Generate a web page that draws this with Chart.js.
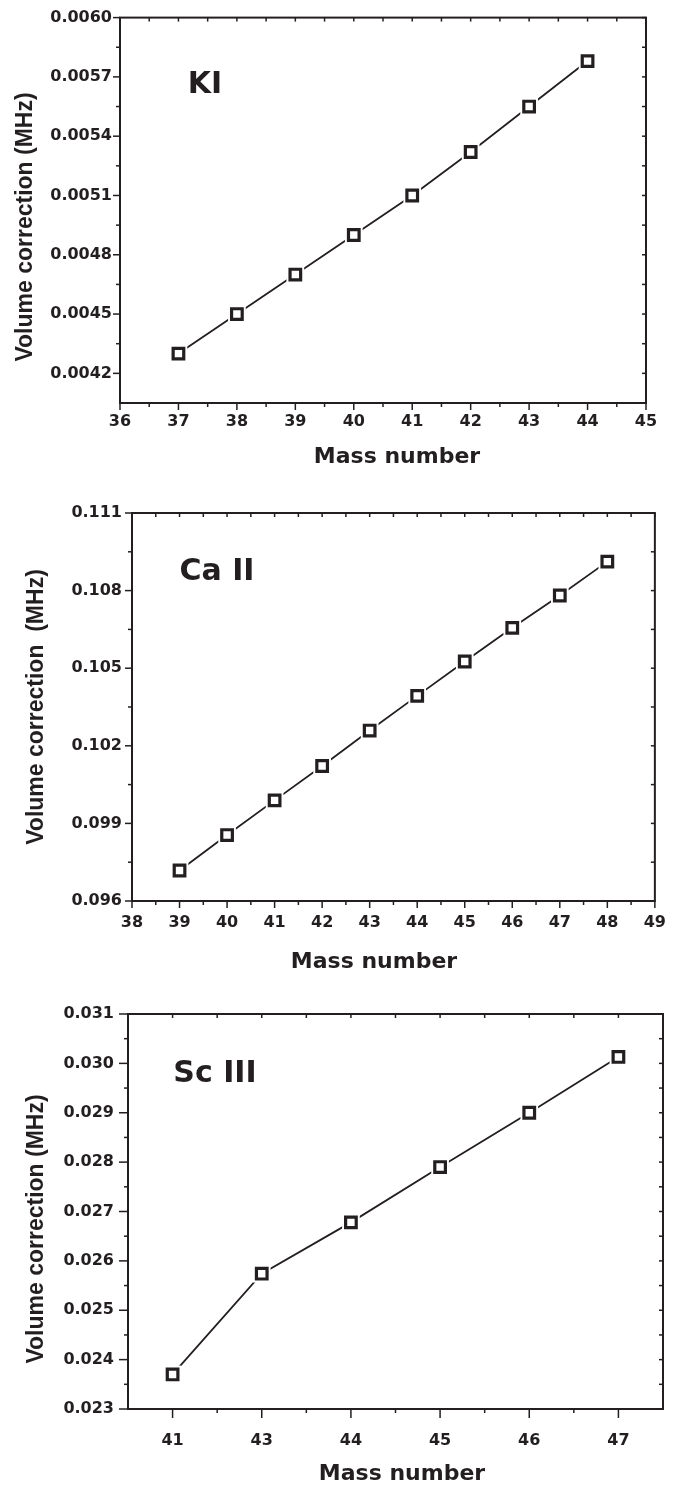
<!DOCTYPE html>
<html>
<head>
<meta charset="utf-8">
<script src="https://cdn.jsdelivr.net/npm/chart.js@4.4.1/dist/chart.umd.min.js"></script>
<style>
  body { margin: 0; background: #fff; }
  #wrap { position: relative; width: 678px; height: 1485px; }
  canvas { position: absolute; left: 0; }
</style>
</head>
<body>
<div id="wrap">
  <canvas id="chartKI" width="678" height="480" style="top:0px"></canvas>
  <canvas id="chartCa" width="678" height="510" style="top:480px"></canvas>
  <canvas id="chartSc" width="678" height="495" style="top:990px"></canvas>
</div>
<script>
// K I
const massKI = [37, 38, 39, 40, 41, 42, 43, 44];
const corrKI = [0.00430, 0.00450, 0.00470, 0.00490, 0.00510, 0.00532, 0.00555, 0.00578];
const xLabelsKI = ['36', '37', '38', '39', '40', '41', '42', '43', '44', '45'];
const yLabelsKI = ['0.0042', '0.0045', '0.0048', '0.0051', '0.0054', '0.0057', '0.0060'];

// Ca II
const massCa = [39, 40, 41, 42, 43, 44, 45, 46, 47, 48];
const corrCa = [0.09718, 0.09855, 0.09989, 0.10122, 0.10259, 0.10393, 0.10526, 0.10656, 0.10781, 0.10912];
const xLabelsCa = ['38', '39', '40', '41', '42', '43', '44', '45', '46', '47', '48', '49'];
const yLabelsCa = ['0.096', '0.099', '0.102', '0.105', '0.108', '0.111'];

// Sc III (no 42, axis is per isotope)
const massSc = ['41', '43', '44', '45', '46', '47'];
const corrSc = [0.02370, 0.02574, 0.02678, 0.02790, 0.02900, 0.03013];
const yLabelsSc = ['0.023', '0.024', '0.025', '0.026', '0.027', '0.028', '0.029', '0.030', '0.031'];

const INK = '#231f20';
Chart.defaults.font.family = 'DejaVu Sans';
Chart.defaults.font.size = 16;
Chart.defaults.font.weight = 'bold';
Chart.defaults.color = INK;

// minor ticks half way between the major ones
function halves(vals) {
  const step = vals[1] - vals[0];
  const out = [];
  for (let i = 0; i <= vals.length; i++) out.push(vals[0] + (i - 0.5) * step);
  return out;
}

// box, tick marks and the texts Origin style
const framePlugin = {
  id: 'frame',
  afterDraw(chart, args, o) {
    const { ctx, chartArea: a } = chart;
    const x = chart.scales.x, y = chart.scales.y;
    ctx.save();
    ctx.strokeStyle = INK;
    ctx.lineWidth = 2;
    ctx.strokeRect(a.left, a.top, a.right - a.left, a.bottom - a.top);
    ctx.lineWidth = 1.5;
    const mark = (px, py, dx, dy) => {
      ctx.beginPath(); ctx.moveTo(px, py); ctx.lineTo(px + dx, py + dy); ctx.stroke();
    };
    const inside = (s, v) => v > s.min + 1e-9 && v < s.max - 1e-9;
    x.ticks.forEach(t => {
      const p = x.getPixelForValue(t.value);
      mark(p, a.bottom, 0, o.major);
      mark(p, a.top, 0, o.inner);
    });
    o.xMinor.filter(v => inside(x, v)).forEach(v => {
      const p = x.getPixelForValue(v);
      mark(p, a.bottom, 0, o.minor);
      mark(p, a.top, 0, o.inner);
    });
    y.ticks.forEach(t => {
      const p = y.getPixelForValue(t.value);
      mark(a.left, p, -o.major, 0);
      mark(a.right, p, -o.inner, 0);
    });
    o.yMinor.filter(v => inside(y, v)).forEach(v => {
      const p = y.getPixelForValue(v);
      mark(a.left, p, -o.minor, 0);
      mark(a.right, p, -o.inner, 0);
    });

    ctx.fillStyle = INK;
    ctx.textBaseline = 'alphabetic';
    ctx.textAlign = 'center';
    ctx.font = 'bold 30px "DejaVu Sans"';
    ctx.fillText(o.label, o.labelPos[0], o.labelPos[1]);
    ctx.font = 'bold 22px "DejaVu Sans"';
    ctx.fillText(o.xTitle, o.xTitlePos[0], o.xTitlePos[1]);
    ctx.translate(o.yTitlePos[0], o.yTitlePos[1]);
    ctx.rotate(-Math.PI / 2);
    ctx.font = 'bold 23px "Liberation Sans"';
    ctx.fillText(o.yTitle, 0, 0);
    ctx.restore();
  }
};

function makeChart(id, c) {
  return new Chart(document.getElementById(id), {
    type: 'line',
    data: {
      labels: c.labels,
      datasets: [
        {
          // open squares (dataset 0 is painted last)
          data: c.data,
          showLine: false,
          pointStyle: 'rect',
          pointRadius: 7.5,
          pointBorderWidth: 3.2,
          pointBackgroundColor: '#ffffff',
          pointBorderColor: INK,
          clip: false
        },
        {
          // connecting line, with a white halo so it stops short of the squares
          data: c.data,
          borderColor: INK,
          borderWidth: 1.8,
          tension: 0,
          pointStyle: 'rect',
          pointRadius: 12.5,
          pointBorderWidth: 0,
          pointBackgroundColor: '#ffffff',
          clip: false
        }
      ]
    },
    options: {
      responsive: false,
      animation: false,
      devicePixelRatio: 1,
      layout: { padding: { top: c.padTop, right: c.padRight, left: 0, bottom: 0 } },
      plugins: {
        legend: { display: false },
        tooltip: { enabled: false },
        frame: c.frame
      },
      scales: {
        x: c.x,
        y: c.y
      }
    },
    plugins: [framePlugin]
  });
}

function linearX(min, max, labels, h, pad) {
  return {
    type: 'linear', min: min, max: max,
    afterBuildTicks: s => { s.ticks = labels.map(l => ({ value: +l })); },
    afterFit: s => { s.height = h; },
    grid: { display: false, drawTicks: false },
    border: { display: false },
    ticks: { padding: pad, autoSkip: false, maxRotation: 0, callback: v => v.toFixed(0) }
  };
}

function linearY(min, max, labels, digits, w, pad) {
  return {
    type: 'linear', min: min, max: max,
    afterBuildTicks: s => { s.ticks = labels.map(l => ({ value: +l })); },
    afterFit: s => { s.width = w; },
    grid: { display: false, drawTicks: false },
    border: { display: false },
    ticks: { padding: pad, autoSkip: false, callback: v => v.toFixed(digits) }
  };
}

makeChart('chartKI', {
  data: massKI.map((m, i) => ({ x: m, y: corrKI[i] })),
  padTop: 15, padRight: 32,
  x: linearX(36, 45, xLabelsKI, 77, 9),
  y: linearY(0.00405, 0.0060, yLabelsKI, 4, 120, 8),
  frame: {
    xMinor: halves(xLabelsKI.map(Number)), yMinor: halves(yLabelsKI.map(Number)),
    major: 7, minor: 4, inner: 4,
    label: 'KI', labelPos: [205, 93],
    xTitle: 'Mass number', xTitlePos: [397, 463],
    yTitle: 'Volume correction (MHz)', yTitlePos: [32, 227]
  }
});

makeChart('chartCa', {
  data: massCa.map((m, i) => ({ x: m, y: corrCa[i] })),
  padTop: 33, padRight: 22,
  x: linearX(38, 49, xLabelsCa, 89, 12),
  y: linearY(0.096, 0.111, yLabelsCa, 3, 132, 10),
  frame: {
    xMinor: halves(xLabelsCa.map(Number)), yMinor: halves(yLabelsCa.map(Number)),
    major: 7, minor: 4, inner: 4,
    label: 'Ca II', labelPos: [217, 100],
    xTitle: 'Mass number', xTitlePos: [374, 488],
    yTitle: 'Volume correction  (MHz)', yTitlePos: [43, 227]
  }
});

makeChart('chartSc', {
  labels: massSc,
  data: corrSc,
  padTop: 24, padRight: 15,
  x: {
    type: 'category', offset: true,
    afterFit: s => { s.height = 76; },
    grid: { display: false, drawTicks: false },
    border: { display: false },
    ticks: { padding: 22, autoSkip: false, maxRotation: 0 }
  },
  y: linearY(0.023, 0.031, yLabelsSc, 3, 128, 14),
  frame: {
    xMinor: [-0.5, 0.5, 1.5, 2.5, 3.5, 4.5, 5.5], yMinor: halves(yLabelsSc.map(Number)),
    major: 9, minor: 4, inner: 4,
    label: 'Sc III', labelPos: [215, 92],
    xTitle: 'Mass number', xTitlePos: [402, 490],
    yTitle: 'Volume correction (MHz)', yTitlePos: [43, 239]
  }
});
</script>
</body>
</html>
